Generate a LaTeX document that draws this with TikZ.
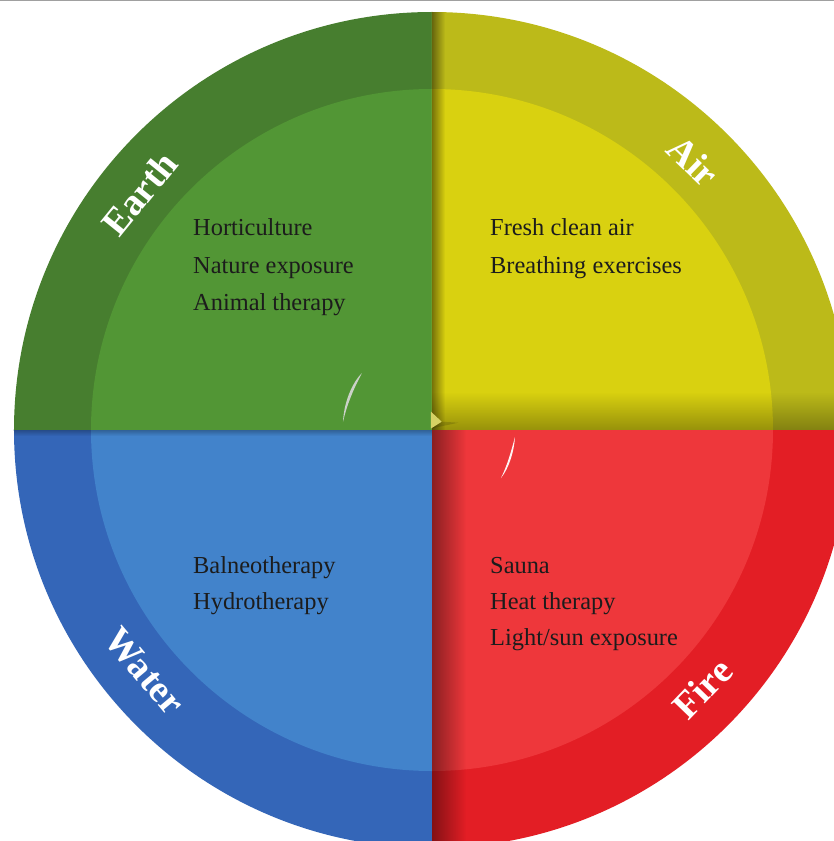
\documentclass[tikz,border=0pt]{standalone}
\usepackage{fontspec}
\setmainfont{Liberation Serif}
\usetikzlibrary{fadings}
\definecolor{earthO}{HTML}{477E2F}
\definecolor{earthI}{HTML}{529635}
\definecolor{airO}{HTML}{BCBA19}
\definecolor{airI}{HTML}{D9D110}
\definecolor{waterO}{HTML}{3466B8}
\definecolor{waterI}{HTML}{4283CB}
\definecolor{fireO}{HTML}{E31E25}
\definecolor{fireI}{HTML}{EE373B}
\definecolor{topline}{HTML}{A0A0A0}
\definecolor{foldc}{HTML}{D6D264}
\definecolor{txt}{HTML}{1C1C1C}
\begin{document}
\begin{tikzpicture}[x=1pt,y=1pt,
  item/.style={anchor=base west, inner sep=0pt, text=txt, font=\fontsize{24.4}{28}\selectfont},
  elem/.style={text=white, font=\bfseries\fontsize{38}{42}\selectfont, inner sep=0pt},
  shade/.style={black, opacity=#1}]
\useasboundingbox (-432,-411) rectangle (402,430);
\clip (-432,-411) rectangle (402,430);
\fill[white] (-432,-411) rectangle (402,430);
\fill[topline] (-432,428.5) rectangle (402,430);
% outer ring quadrants
\fill[earthO] (0,0) -- (180:418) arc[start angle=180,end angle=90,radius=418] -- cycle;
\fill[airO] (0,0) -- (90:418) arc[start angle=90,end angle=0,radius=418] -- cycle;
\fill[fireO] (0,0) -- (0:418) arc[start angle=0,end angle=-90,radius=418] -- cycle;
\fill[waterO] (0,0) -- (-90:418) arc[start angle=-90,end angle=-180,radius=418] -- cycle;
% inner disc quadrants
\fill[earthI] (0,0) -- (180:341) arc[start angle=180,end angle=90,radius=341] -- cycle;
\fill[airI] (0,0) -- (90:341) arc[start angle=90,end angle=0,radius=341] -- cycle;
\fill[fireI] (0,0) -- (0:341) arc[start angle=0,end angle=-90,radius=341] -- cycle;
\fill[waterI] (0,0) -- (-90:341) arc[start angle=-90,end angle=-180,radius=341] -- cycle;
% shadows in air quadrant
\begin{scope}
  \clip (0,0) -- (90:418) arc[start angle=90,end angle=0,radius=418] -- cycle;
  \fill[shade=0.45, path fading=east] (0,0) rectangle (13,420);
  \fill[shade=0.3, path fading=north] (0,0) rectangle (420,38);
\end{scope}
% shadows in fire quadrant
\begin{scope}
  \clip (0,0) -- (0:418) arc[start angle=0,end angle=-90,radius=418] -- cycle;
  \fill[shade=0.42, path fading=east] (0,0) rectangle (34,-420);
\end{scope}
% shadow in water quadrant
\begin{scope}
  \clip (0,0) -- (-90:418) arc[start angle=-90,end angle=-180,radius=418] -- cycle;
  \fill[shade=0.25, path fading=south] (-420,0) rectangle (0,-6);
\end{scope}
% fold at centre
\fill[black, opacity=0.15] (9.7,8.3) -- (26.3,7.3) -- (-1,1.5) -- cycle;
\fill[foldc] (-1,18.3) -- (9.7,8.3) -- (-1,1.5) -- cycle;
% highlights
\fill[white!85!black, opacity=0.9] (-89,8) .. controls (-88,28) and (-80,47) .. (-70,57) .. controls (-78,42) and (-85,26) .. cycle;
\fill[white, opacity=0.95] (69,-48) .. controls (77,-38) and (82,-22) .. (83,-7) .. controls (79,-22) and (75,-36) .. cycle;
% element labels
\node[elem, rotate=51] (lEarth) at (141:376) {Earth};
\node[elem, rotate=-44] (lAir) at (45.8:375) {Air};
\node[elem, rotate=-50] (lWater) at (220:375) {Water};
\node[elem, rotate=46] (lFire) at (-43.7:374) {Fire};
% items
\node[item] (e1) at (-239,194) {Horticulture};
\node[item] (e2) at (-239,157) {Nature exposure};
\node[item] (e3) at (-239,120) {Animal therapy};
\node[item] (a1) at (58,194) {Fresh clean air};
\node[item] (a2) at (58,157) {Breathing exercises};
\node[item] (w1) at (-239,-143) {Balneotherapy};
\node[item] (w2) at (-239,-179) {Hydrotherapy};
\node[item] (f1) at (58,-143) {Sauna};
\node[item] (f2) at (58,-179) {Heat therapy};
\node[item] (f3) at (58,-215) {Light/sun exposure};
\end{tikzpicture}
\end{document}
